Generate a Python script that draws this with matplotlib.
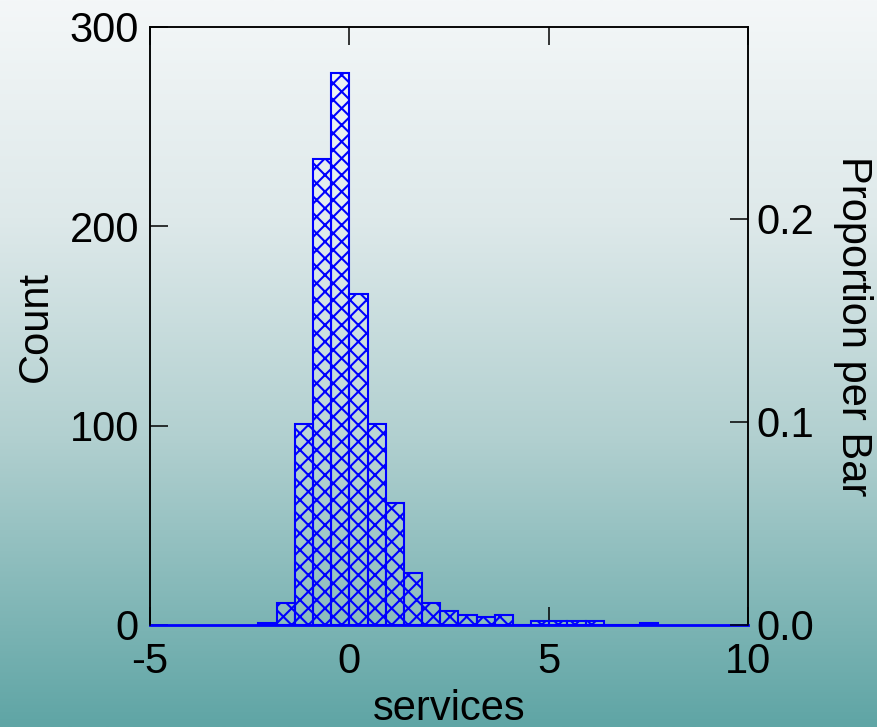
import numpy as np
import matplotlib
matplotlib.use('Agg')
import matplotlib.pyplot as plt
from matplotlib.colors import LinearSegmentedColormap

# histogram of "services"
bin_edges = [-2.28, -1.824, -1.368, -0.912, -0.456, 0.0, 0.456, 0.912, 1.368,
             1.824, 2.28, 2.736, 3.192, 3.648, 4.104, 4.56, 5.016, 5.472,
             5.928, 6.384, 6.84, 7.296, 7.752]
counts = [1, 11, 101, 234, 277, 166, 101, 61, 26, 11, 7, 5, 4, 5, 0,
          2, 2, 2, 2, 0, 0, 1]

x_ticks = [-5, 0, 5, 10]
count_ticks = [0, 100, 200, 300]
prop_ticks = [0.0, 0.1, 0.2]

plt.rcParams['font.family'] = ['Liberation Sans', 'DejaVu Sans']
plt.rcParams['font.size'] = 30
plt.rcParams['hatch.linewidth'] = 1.5
plt.rcParams['hatch.color'] = 'blue'

fig = plt.figure(figsize=(8.78, 7.27), dpi=100)

# background gradient, light at top to teal at bottom
bg = fig.add_axes([0, 0, 1, 1], zorder=-10)
cmap = LinearSegmentedColormap.from_list('bg', [
    (0.0, (244/255, 247/255, 248/255)),
    (0.3, (222/255, 233/255, 234/255)),
    (0.6, (178/255, 208/255, 208/255)),
    (1.0, (95/255, 165/255, 165/255))])
bg.imshow(np.linspace(0, 1, 256).reshape(-1, 1), aspect='auto', cmap=cmap,
          extent=[0, 1, 0, 1])
bg.axis('off')

ax = fig.add_axes([150/878, 1 - 625/727, 598/878, 598/727])
ax.set_facecolor('none')

lefts = np.array(bin_edges[:-1])
widths = np.diff(bin_edges)
ax.bar(lefts, counts, width=widths, align='edge', facecolor=(1, 1, 1, 0.12),
       edgecolor='blue', linewidth=1.5, hatch='xx', zorder=3)

ax.set_xlim(-5, 10)
ax.set_ylim(0, 300)
ax.set_xticks(x_ticks)
ax.set_xticklabels([str(t) for t in x_ticks])
ax.set_yticks(count_ticks)
ax.set_xlabel('services', labelpad=5)
ax.set_ylabel('Count', labelpad=10)

for side in ['left', 'top', 'right']:
    ax.spines[side].set_linewidth(1.1)
ax.spines['bottom'].set_color('blue')
ax.spines['bottom'].set_linewidth(2.0)
ax.spines['bottom'].set_zorder(4)

ax.tick_params(axis='x', direction='in', length=13, width=1.1, color='black',
               top=True, bottom=True, pad=12)
ax.tick_params(axis='y', direction='in', length=13, width=1.1, color='black',
               left=True, right=False, pad=8)

total = sum(counts)
ax2 = ax.twinx()
ax2.set_ylim(0, 300 / total)
ax2.set_yticks(prop_ticks)
ax2.set_yticklabels(['%.1f' % t for t in prop_ticks])
ax2.tick_params(axis='y', direction='in', length=13, width=1.1, pad=6)
ax2.set_ylabel('Proportion per Bar', rotation=-90, labelpad=42)
for side in ['left', 'top', 'right']:
    ax2.spines[side].set_linewidth(1.1)
ax2.spines['bottom'].set_visible(False)

fig.savefig('out.png', dpi=100)
